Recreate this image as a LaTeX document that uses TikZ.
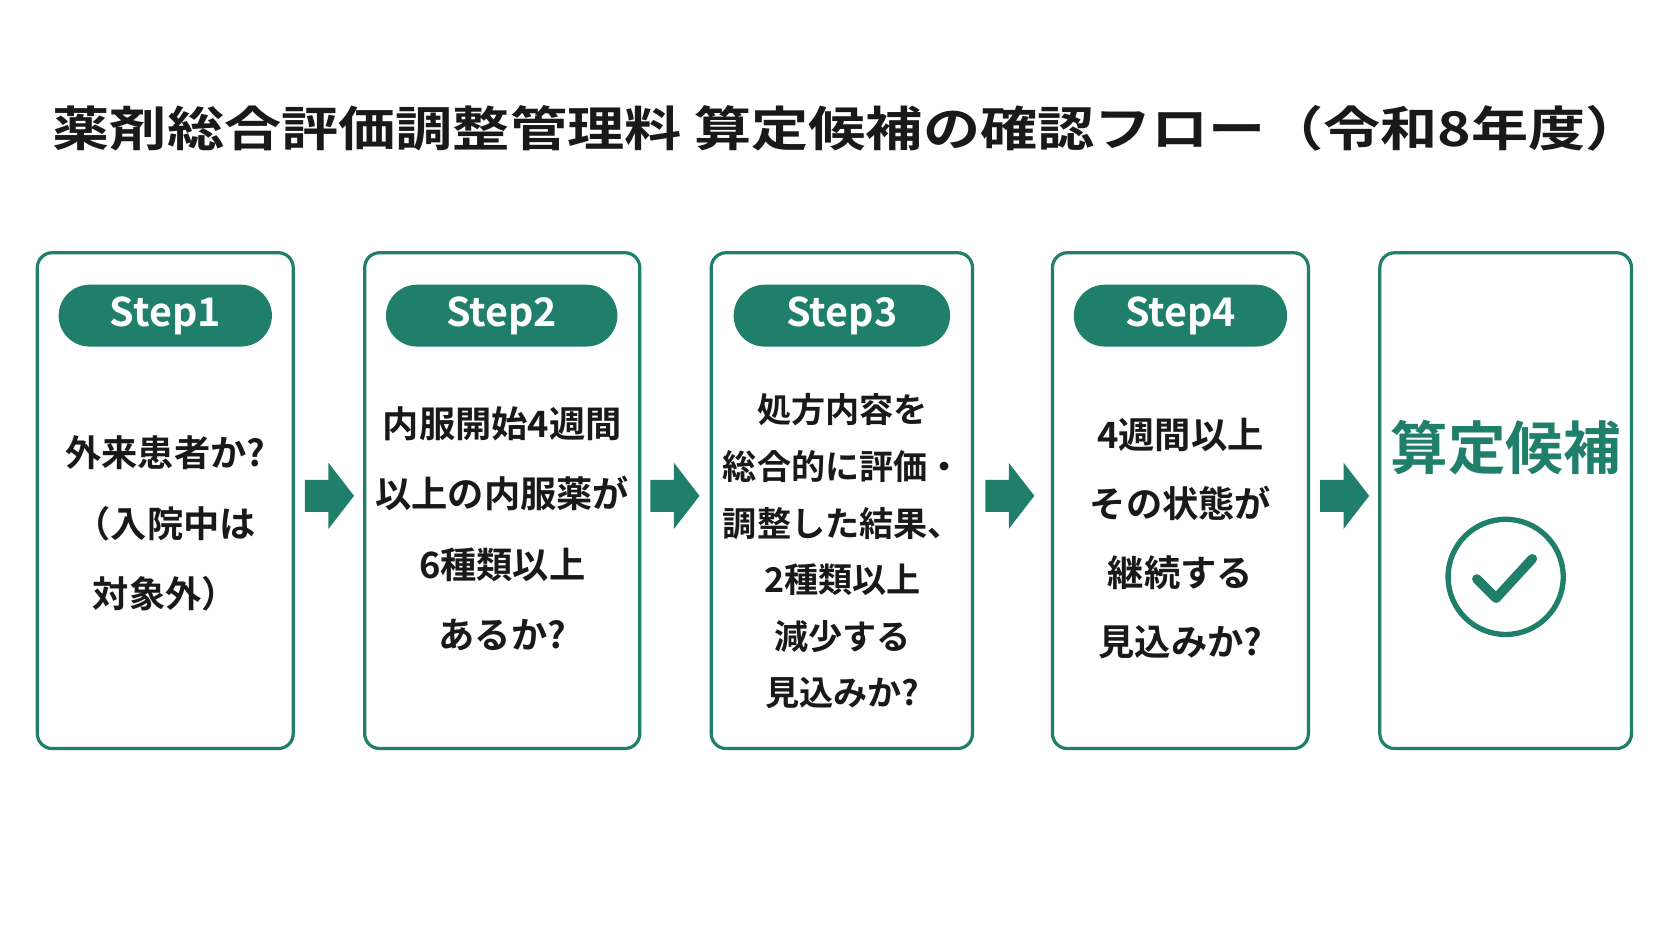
\documentclass[tikz,border=0pt]{standalone}
\usepackage{fontspec}
\setmainfont{Noto Sans CJK JP}[BoldFont={Noto Sans CJK JP Bold}]
\definecolor{grn}{HTML}{1F7F6A}
\begin{document}
\begin{tikzpicture}[x=1pt,y=-1pt,
 box/.style={draw=grn,line width=3pt,rounded corners=14pt,fill=white},
 pill/.style={fill=grn,rounded corners=29pt,text=white,font=\bfseries\fontsize{37}{37}\selectfont,inner sep=0pt},
 body/.style={align=center,font=\bfseries\fontsize{34}{#1}\selectfont,text=black!90},
 arr/.style={fill=grn}]
\useasboundingbox[fill=white] (0,0) rectangle (1568,882);
\node[font=\bfseries\fontsize{40}{40}\selectfont,text=black!90,xscale=1.34,yscale=1.12] (title) at (795,120) {薬剤総合評価調整管理料\ 算定候補の確認フロー（令和8年度）};
\foreach \n/\a/\b in {1/35/275,2/342/600,3/667/912,4/987/1227,5/1294/1530}{
  \draw[box] (\a,237) rectangle (\b,702);
  \coordinate (b\n) at ({(\a+\b)/2},465);
}
\foreach \n/\a/\b in {1/55/255,2/362/579,3/688/891,4/1007/1207}{
  \node[pill,minimum width={\b-\a},minimum height=58pt] (p\n) at ({(\a+\b)/2},296) {Step\n};
}
\node[body=66] (t1) at (155,491) {外来患者か?\\（入院中は\\対象外）};
\node[body=66] (t2) at (471,496) {内服開始4週間\\以上の内服薬が\\6種類以上\\あるか?};
\node[body=53,font=\bfseries\fontsize{32}{53}\selectfont] (t3) at (790,517) {処方内容を\\総合的に評価・\\調整した結果、\\2種類以上\\減少する\\見込みか?};
\node[body=65] (t4) at (1107,505) {4週間以上\\その状態が\\継続する\\見込みか?};
\node[font=\bfseries\fontsize{54}{54}\selectfont,text=grn] (t5) at (1412,420) {算定候補};
\node[draw=grn,line width=5pt,circle,minimum size=108pt] (chk) at (1412,541) {};
\draw[grn,line width=9pt,line cap=round,line join=round] (1385,543) -- (1403,561) -- (1437,524);
\foreach \x in {286,610,924,1238}{
  \fill[arr] (\x,450) -- (\x+22,450) -- (\x+22,434) -- (\x+46,465) -- (\x+22,496) -- (\x+22,480) -- (\x,480) -- cycle;
}
\end{tikzpicture}
\end{document}
